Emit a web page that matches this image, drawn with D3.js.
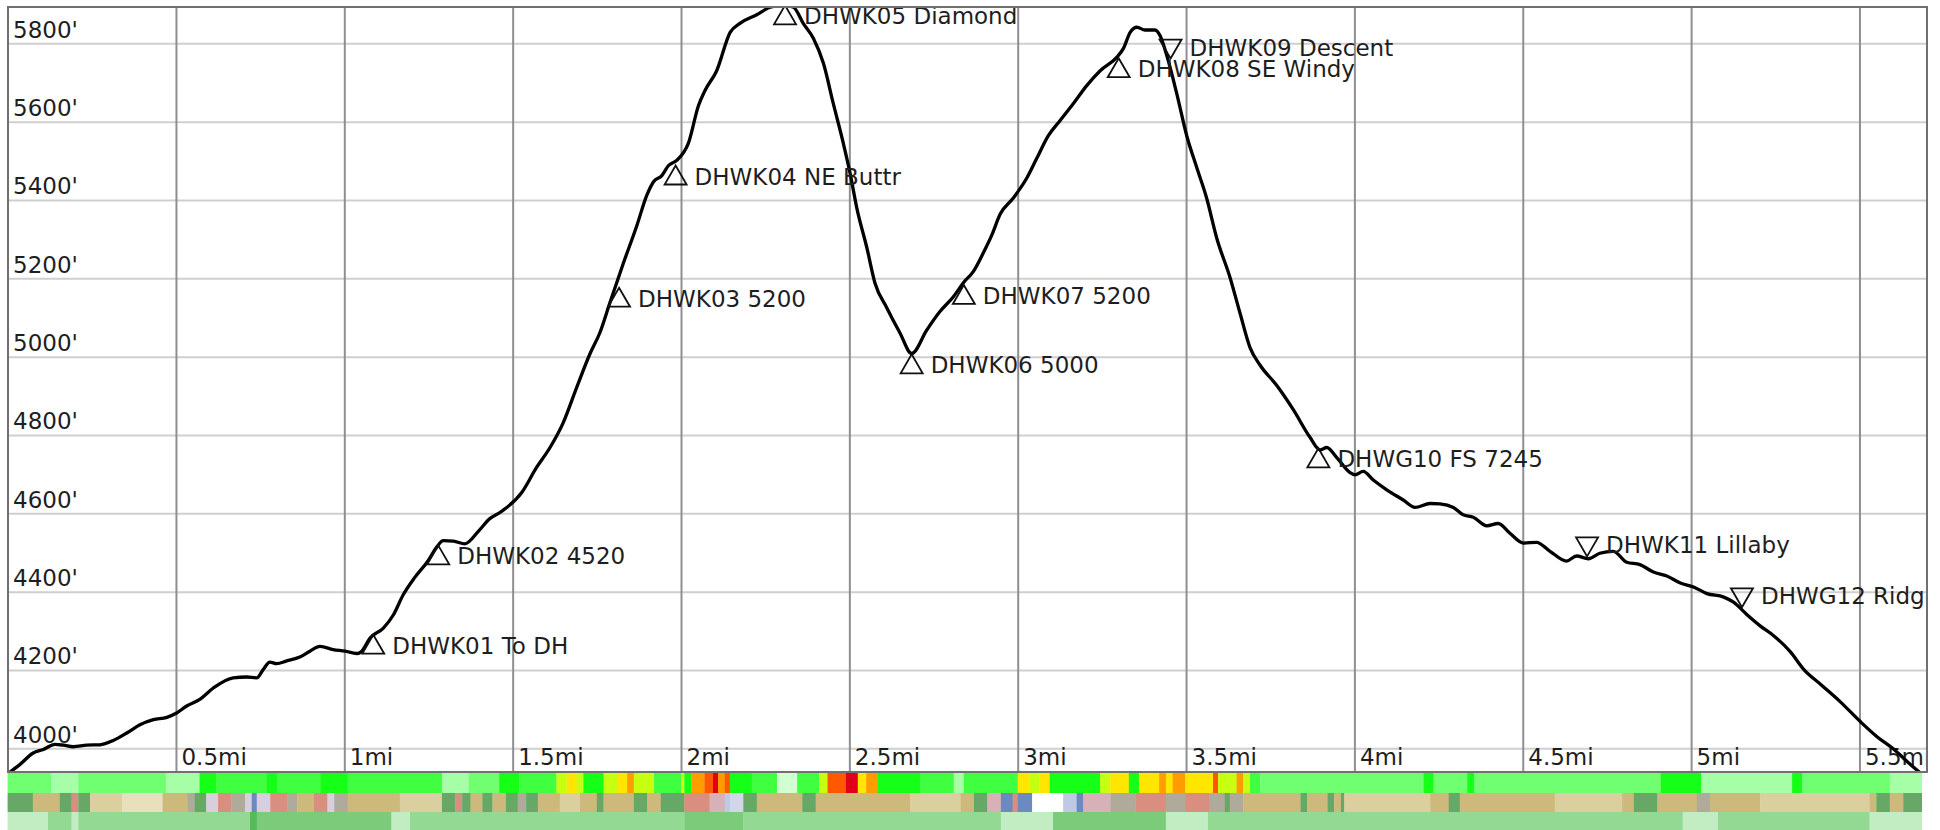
<!DOCTYPE html>
<html><head><meta charset="utf-8">
<script src="https://cdn.jsdelivr.net/npm/d3@7"></script>
<style>html,body{margin:0;padding:0;background:#fff;} svg{display:block;}</style>
</head><body>
<svg id="c" width="1940" height="830"></svg>
<script>
// ---- track profile (distance in miles, elevation in feet)
const distMi = [0.002,0.037,0.076,0.106,0.141,0.166,0.195,0.235,0.274,0.314,0.354,0.393,0.433,0.473,0.502,0.532,0.571,0.611,0.670,0.710,0.740,0.759,0.779,0.799,0.829,0.868,0.898,0.928,0.967,1.002,1.037,1.052,1.076,1.116,1.146,1.175,1.210,1.249,1.274,1.294,1.324,1.358,1.400,1.433,1.462,1.527,1.571,1.611,1.650,1.690,1.730,1.759,1.789,1.829,1.869,1.898,1.918,1.943,1.963,1.987,2.022,2.052,2.071,2.106,2.146,2.175,2.225,2.265,2.304,2.334,2.363,2.393,2.423,2.452,2.482,2.502,2.522,2.552,2.576,2.611,2.650,2.685,2.730,2.769,2.809,2.840,2.868,2.898,2.923,2.948,2.987,3.027,3.057,3.091,3.126,3.166,3.205,3.245,3.294,3.314,3.334,3.354,3.378,3.408,3.423,3.443,3.472,3.502,3.532,3.561,3.591,3.631,3.660,3.690,3.720,3.769,3.819,3.868,3.898,3.918,3.947,3.987,4.002,4.026,4.056,4.096,4.145,4.180,4.225,4.254,4.294,4.323,4.353,4.393,4.427,4.462,4.502,4.541,4.581,4.630,4.660,4.695,4.729,4.769,4.809,4.848,4.888,4.928,4.968,5.007,5.047,5.097,5.126,5.166,5.206,5.246,5.295,5.335,5.385,5.444,5.504,5.553,5.603,5.643,5.685];
const elevFt = [3936,3959,3988,3997,4010,4008,4004,4008,4009,4020,4039,4060,4073,4079,4090,4108,4125,4154,4180,4182,4180,4201,4220,4216,4223,4233,4248,4260,4252,4248,4242,4248,4281,4307,4341,4392,4437,4479,4513,4530,4529,4522,4556,4587,4602,4653,4717,4768,4831,4921,5008,5061,5138,5239,5335,5411,5446,5462,5488,5501,5545,5641,5679,5730,5828,5851,5873,5892,5897,5892,5851,5813,5749,5647,5545,5469,5380,5278,5188,5125,5061,5008,5068,5115,5153,5190,5217,5265,5310,5364,5405,5456,5507,5564,5603,5647,5692,5730,5764,5787,5828,5841,5834,5834,5819,5768,5673,5564,5482,5405,5303,5201,5112,5023,4978,4927,4864,4794,4762,4768,4743,4704,4698,4707,4685,4660,4634,4615,4625,4624,4615,4596,4590,4568,4574,4549,4524,4526,4503,4478,4491,4484,4498,4503,4475,4469,4450,4440,4422,4412,4395,4386,4373,4341,4312,4287,4246,4201,4163,4118,4067,4029,3997,3965,3934];

// ---- waypoints
const wpNames = ["DHWK01 To DH","DHWK02 4520","DHWK03 5200","DHWK04 NE Buttr","DHWK05 Diamond","DHWK06 5000","DHWK07 5200","DHWK08 SE Windy","DHWK09 Descent","DHWG10 FS 7245","DHWK11 Lillaby","DHWG12 Ridge"];
const wpMi   = [1.086,1.279,1.816,1.984,2.309,2.685,2.840,3.300,3.454,3.893,4.691,5.151];
const wpFt   = [4290,4518,5176,5488,5897,5006,5183,5762,5761,4766,4490,4360];
const wpDir  = ["up","up","up","up","up","up","up","up","down","up","down","down"];

// ---- axis ticks
const yTicks = [4000,4200,4400,4600,4800,5000,5200,5400,5600,5800];
const xTicks = [0.5,1,1.5,2,2.5,3,3.5,4,4.5,5,5.5];
const xTickLabels = ["0.5mi","1mi","1.5mi","2mi","2.5mi","3mi","3.5mi","4mi","4.5mi","5mi","5.5mi"];

// ---- strip 1: grade class per segment (segment end in miles)
const gradeEnds  = [0.13,0.21,0.47,0.57,0.62,0.77,0.80,0.93,1.01,1.29,1.37,1.46,1.52,1.63,1.66,1.69,1.71,1.77,1.81,1.84,1.86,1.92,2.00,2.01,2.03,2.07,2.095,2.11,2.13,2.145,2.21,2.285,2.345,2.41,2.435,2.49,2.525,2.55,2.585,2.71,2.81,2.84,3.00,3.035,3.065,3.095,3.245,3.275,3.33,3.36,3.42,3.44,3.46,3.497,3.58,3.595,3.65,3.67,3.69,3.72,4.205,4.235,4.335,4.355,4.91,5.03,5.30,5.33,5.59,5.685];
const gradeClass = [2,1,2,1,4,3,4,3,4,3,1,2,4,3,5,6,5,4,5,6,7,5,3,5,4,7,8,9,7,8,4,3,0,3,5,8,9,6,7,4,3,1,3,6,5,6,4,5,6,4,6,7,6,7,6,8,5,7,5,3,2,4,2,4,2,4,1,4,2,1];

// ---- strip 2: surface / cover type per segment
const coverEnds  = [0.075,0.155,0.19,0.21,0.245,0.34,0.46,0.535,0.555,0.59,0.625,0.665,0.705,0.725,0.74,0.78,0.83,0.86,0.91,0.95,0.97,1.01,1.165,1.29,1.33,1.35,1.375,1.41,1.44,1.48,1.515,1.54,1.575,1.64,1.70,1.75,1.77,1.86,1.90,1.94,2.01,2.085,2.13,2.145,2.185,2.225,2.36,2.40,2.68,2.83,2.87,2.91,2.95,2.985,3.00,3.043,3.135,3.175,3.195,3.275,3.35,3.44,3.497,3.57,3.615,3.63,3.67,3.84,3.86,3.92,3.94,3.96,3.97,4.225,4.28,4.313,4.595,4.795,4.83,4.90,5.017,5.056,5.205,5.53,5.55,5.59,5.63,5.685];
const coverClass = ["G","T","G","S","G","L","LL","T","R","G","V","S","R","V","B","V","S","R","T","S","V","R","T","L","G","S","G","T","G","T","G","R","G","T","L","T","G","T","G","T","G","S","P","LB","LV","G","T","G","T","L","T","G","P","B","S","B","W","LB","B","P","R","S","R","S","R","G","R","T","G","T","G","T","G","L","T","G","T","L","T","G","T","R","T","L","T","G","T","G"];

// ---- strip 3: vegetation class per segment
const vegEnds  = [0.12,0.19,0.21,0.72,0.74,1.14,1.195,2.01,2.185,2.95,3.105,3.44,3.565,4.975,5.08,5.53,5.685];
const vegClass = ["a","b","a","b","d","c","a","b","c","b","a","c","a","b","a","b","a"];

// ---- styling maps
const gradeColor = d3.scaleOrdinal().domain([0,1,2,3,4,5,6,7,8,9])
  .range(["#d2ffd2","#a6ffa6","#70ff70","#40ff40","#16ff16","#c6ff12","#ffe600","#ff9c00","#ff5800","#e0001a"]);
const coverColor = d3.scaleOrdinal().domain(["T","L","LL","G","S","R","V","LV","B","LB","W","P"])
  .range(["#cdb97c","#dbcf9f","#e7e0bb","#67a867","#d98f80","#b0aa9a","#d8cede","#d2d6ea","#6c8abf","#bfc9e4","#ffffff","#d6b2b8"]);
const vegColor = d3.scaleOrdinal().domain(["a","b","c","d"])
  .range(["#c2ecc2","#93d893","#7bcb7b","#56bb56"]);

const L = 8, R = 1927, T = 7, B = 772;
const svg = d3.select("#c");
const x = d3.scaleLinear().domain([0, 5.7]).range([7.6, 1926.8]);
const y = d3.scaleLinear().domain([4000, 5800]).range([748.3, 43.3]);
const FONT = "'DejaVu Sans', sans-serif";
const FS = "23px";

svg.append("defs").append("clipPath").attr("id","plot")
  .append("rect").attr("x",L).attr("y",T).attr("width",R-L).attr("height",B-T);

const plot = svg.append("g").attr("clip-path","url(#plot)");

// horizontal grid + y labels
const gy = plot.append("g").attr("transform",`translate(${L},0)`)
  .call(d3.axisLeft(y).tickValues(yTicks).tickSize(-(R-L)).tickFormat(d => d + "'"));
gy.select(".domain").remove();
gy.selectAll(".tick line").attr("stroke","#cfcfcf").attr("stroke-width",2);
gy.selectAll(".tick text").attr("x",5).attr("y",-6).attr("dy",null)
  .attr("text-anchor","start").attr("fill","#1e1e1e")
  .style("font-family",FONT).style("font-size",FS);

// vertical grid + x labels
const gx = plot.append("g").attr("transform",`translate(0,${B})`)
  .call(d3.axisBottom(x).tickValues(xTicks).tickSize(-(B-T)).tickFormat((d,i) => xTickLabels[i]));
gx.select(".domain").remove();
gx.selectAll(".tick line").attr("stroke","#8f8f8f").attr("stroke-width",2);
gx.selectAll(".tick text").attr("x",5).attr("y",-7).attr("dy",null)
  .attr("text-anchor","start").attr("fill","#1e1e1e")
  .style("font-family",FONT).style("font-size",FS);

// elevation line
const pts = distMi.map((d,i) => [d, elevFt[i]]);
plot.append("path").datum(pts)
  .attr("fill","none").attr("stroke","#000").attr("stroke-width",3.3)
  .attr("stroke-linejoin","round").attr("stroke-linecap","round")
  .attr("d", d3.line().x(d => x(d[0])).y(d => y(d[1])).curve(d3.curveMonotoneX));

// waypoints
const wps = wpNames.map((n,i) => ({name:n, mi:wpMi[i], ft:wpFt[i], dir:wpDir[i]}));
const TW = 11, TH = 19;
const wg = plot.append("g").selectAll("g").data(wps).join("g")
  .attr("transform", d => `translate(${x(d.mi)},${y(d.ft)})`);
wg.append("path")
  .attr("d", d => d.dir === "up"
     ? `M0,0 L${TW},${TH} L${-TW},${TH} Z`
     : `M0,0 L${TW},${-TH} L${-TW},${-TH} Z`)
  .attr("fill","none").attr("stroke","#111").attr("stroke-width",1.8).attr("stroke-linejoin","miter");
wg.append("text")
  .attr("x", 19)
  .attr("y", d => d.dir === "up" ? TH : -3)
  .attr("fill","#1e1e1e").style("font-family",FONT).style("font-size",FS)
  .text(d => d.name);

// bottom strips
function strip(ends, classes, color, y0, h) {
  const segs = ends.map((e,i) => ({s: i === 0 ? 0 : ends[i-1], e: e, c: classes[i]}));
  svg.append("g").selectAll("rect").data(segs).join("rect")
    .attr("x", d => x(d.s)).attr("width", d => Math.max(0, x(d.e) - x(d.s)) + 0.3)
    .attr("y", y0).attr("height", h)
    .attr("fill", d => color(d.c));
}
strip(gradeEnds, gradeClass, gradeColor, 773, 20);
strip(coverEnds, coverClass, coverColor, 793, 19);
strip(vegEnds, vegClass, vegColor, 812, 18);

// frame
svg.append("rect").attr("x",L).attr("y",T).attr("width",R-L).attr("height",B-T)
  .attr("fill","none").attr("stroke","#707070").attr("stroke-width",2);
</script>
</body></html>
